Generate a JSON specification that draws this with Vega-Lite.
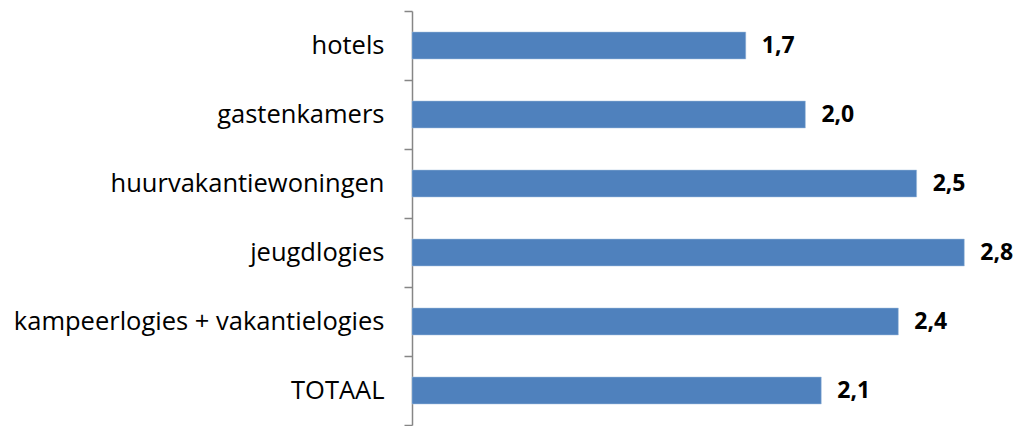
{
  "$schema": "https://vega.github.io/schema/vega-lite/v6.json",
  "width": 600,
  "height": 414,
  "autosize": {"type": "none"},
  "padding": {"left": 412, "top": 11, "right": 4, "bottom": 1},
  "background": "white",
  "config": {
    "view": {"stroke": null},
    "locale": {"number": {"decimal": ",", "thousands": ".", "grouping": [3], "currency": ["€", ""]}}
  },
  "data": {
    "values": [
      {"categorie": "hotels", "waarde": 1.68},
      {"categorie": "gastenkamers", "waarde": 1.98},
      {"categorie": "huurvakantiewoningen", "waarde": 2.54},
      {"categorie": "jeugdlogies", "waarde": 2.78},
      {"categorie": "kampeerlogies + vakantielogies", "waarde": 2.448},
      {"categorie": "TOTAAL", "waarde": 2.06}
    ]
  },
  "encoding": {
    "y": {
      "field": "categorie",
      "type": "nominal",
      "sort": null,
      "scale": {"paddingInner": 0, "paddingOuter": 0},
      "axis": {
        "title": null,
        "domainColor": "#868686",
        "domainWidth": 1.5,
        "tickColor": "#868686",
        "tickWidth": 1.5,
        "tickSize": 8,
        "tickBand": "extent",
        "labelPadding": 20,
        "labelFont": "Open Sans",
        "labelFontSize": 25.5,
        "labelColor": "#000000",
        "labelLimit": 0
      }
    },
    "x": {
      "field": "waarde",
      "type": "quantitative",
      "scale": {"domain": [0, 3.02], "nice": false, "zero": true},
      "axis": null
    }
  },
  "layer": [
    {"mark": {"type": "bar", "color": "#4F81BD", "stroke": "#A7C0DE", "strokeWidth": 0.5, "height": {"band": 0.391}}},
    {
      "mark": {"type": "text", "align": "left", "baseline": "middle", "dx": 16, "font": "Open Sans", "fontSize": 23, "fontWeight": "bold", "color": "#000000"},
      "encoding": {"text": {"field": "waarde", "type": "quantitative", "format": ".1f"}}
    }
  ]
}
